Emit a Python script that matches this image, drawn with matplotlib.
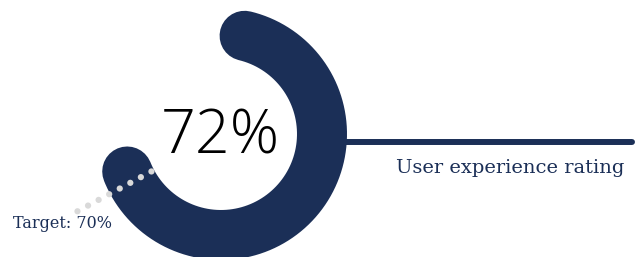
import numpy as np
import matplotlib
matplotlib.use('Agg')
import matplotlib.pyplot as plt

# data
value = 72
target = 70
label = 'User experience rating'
target_label = f'Target: {target}%'

navy = '#1b2f57'
dot_gray = '#d9d9d9'

# gauge geometry (pixel space, y down)
cx, cy = 221, 134
r_mid = 101
band = 50
start_deg = 13.5
sweep_deg = 326


def pct_to_xy(pct, r):
    th = np.deg2rad(start_deg + pct / 100 * sweep_deg)
    return cx + r * np.sin(th), cy - r * np.cos(th)


fig = plt.figure(figsize=(6.36, 2.57), dpi=100)
ax = fig.add_axes([0, 0, 1, 1])
ax.set_xlim(0, 636)
ax.set_ylim(257, 0)
ax.axis('off')

# value arc
p = np.linspace(0, value, 300)
xs, ys = pct_to_xy(p, r_mid)
ax.plot(xs, ys, color=navy, lw=band * 72 / 100, solid_capstyle='round', zorder=2)

# connector line to label
ax.plot([cx + r_mid + band / 2 - 2, 632], [142, 142], color=navy, lw=4.3,
        solid_capstyle='round', zorder=1)
ax.text(624, 168, label, ha='right', va='center', color=navy,
        fontsize=14, family='DejaVu Serif')

# target marker (dotted radial line)
radii = np.linspace(79, 163, 8)
tx, ty = pct_to_xy(np.full_like(radii, target), radii)
ax.scatter(tx, ty, s=20, color=dot_gray, edgecolor='none', zorder=3)
ax.text(13, 224, target_label, ha='left', va='center', color=navy,
        fontsize=11.5, family='DejaVu Serif')

# centre value
ax.text(cx - 1, 138, f'{value}%', ha='center', va='center', color='black',
        fontsize=44, family='Open Sans', fontweight='light')

fig.savefig('out.png', dpi=100)
